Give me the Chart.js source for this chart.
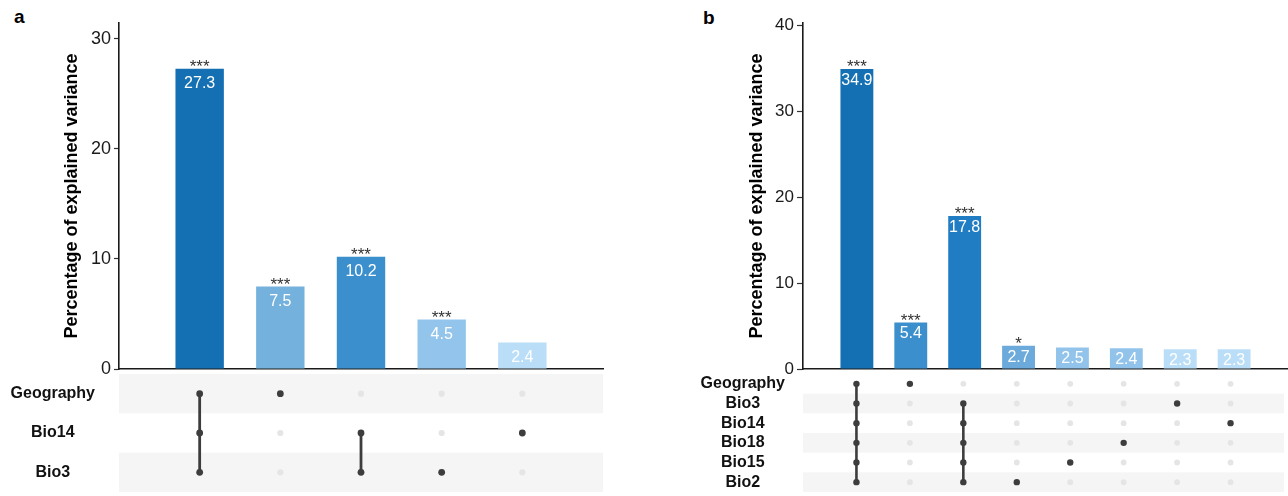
<!DOCTYPE html>
<html><head><meta charset="utf-8">
<script src="https://cdn.jsdelivr.net/npm/chart.js@4"></script>
<style>
html,body{margin:0;padding:0;background:#fff;width:1288px;height:496px;overflow:hidden;position:relative;}
canvas{position:absolute;display:block;}
.lab{position:absolute;font:bold 19px "Liberation Sans",Arial,sans-serif;line-height:19px;color:#000;}
</style></head><body>
<div class="lab" style="left:14px;top:7px">a</div>
<div class="lab" style="left:703px;top:8px">b</div>
<canvas id="barA" width="640" height="390" style="left:0;top:0"></canvas>
<canvas id="matA" width="640" height="126" style="left:0;top:370px"></canvas>
<canvas id="barB" width="648" height="390" style="left:640px;top:0"></canvas>
<canvas id="matB" width="648" height="126" style="left:640px;top:370px"></canvas>
<script>
// ---------- Panel a data ----------
const rowsA = ['Geography', 'Bio14', 'Bio3'];
const setsA = [
  ['Geography', 'Bio14', 'Bio3'],
  ['Geography'],
  ['Bio14', 'Bio3'],
  ['Bio3'],
  ['Bio14']
];
const valuesA = [27.3, 7.5, 10.2, 4.5, 2.4];
const sigA = ['***', '***', '***', '***', ''];
const colorsA = ['#1470b2', '#74b1dd', '#3a8fcc', '#93c5ec', '#bbdef8'];
const yTicksA = [0, 10, 20, 30];
const yMaxA = 31.45;

// ---------- Panel b data ----------
const rowsB = ['Geography', 'Bio3', 'Bio14', 'Bio18', 'Bio15', 'Bio2'];
const setsB = [
  ['Geography', 'Bio3', 'Bio14', 'Bio18', 'Bio15', 'Bio2'],
  ['Geography'],
  ['Bio3', 'Bio14', 'Bio18', 'Bio15', 'Bio2'],
  ['Bio2'],
  ['Bio15'],
  ['Bio18'],
  ['Bio3'],
  ['Bio14']
];
const valuesB = [34.9, 5.4, 17.8, 2.7, 2.5, 2.4, 2.3, 2.3];
const sigB = ['***', '***', '***', '*', '', '', '', ''];
const colorsB = ['#1470b2', '#3a8fcc', '#207cc3', '#6baadb', '#92c4eb', '#92c4eb', '#bbdef8', '#bbdef8'];
const yTicksB = [0, 10, 20, 30, 40];
const yMaxB = 40.25;

const FONT = '"Liberation Sans", Arial, Helvetica, sans-serif';
const AXIS = '#1a1a1a';

const barTextPlugin = {
  id: 'barText',
  afterDatasetsDraw(chart, args, opts) {
    const ctx = chart.ctx, meta = chart.getDatasetMeta(0), a = chart.chartArea;
    ctx.save();
    ctx.textAlign = 'center';
    ctx.fillStyle = '#333';
    ctx.font = '17px ' + FONT;
    ctx.textBaseline = 'alphabetic';
    meta.data.forEach((bar, i) => {
      if (opts.sig[i]) ctx.fillText(opts.sig[i], bar.x, bar.y + opts.starOffset);
    });
    ctx.beginPath();
    ctx.rect(a.left, a.top, a.right - a.left, a.bottom - a.top);
    ctx.clip();
    ctx.fillStyle = '#ffffff';
    ctx.font = '16px ' + FONT;
    ctx.textBaseline = 'middle';
    meta.data.forEach((bar, i) => {
      ctx.fillText(opts.values[i].toFixed(1), bar.x, bar.y + opts.valueOffset);
    });
    ctx.restore();
  }
};

const bandPlugin = {
  id: 'bands',
  beforeDatasetsDraw(chart, args, opts) {
    const ctx = chart.ctx, y = chart.scales.y, a = chart.chartArea;
    const n = opts.rows.length, h = (a.bottom - a.top) / n;
    ctx.save();
    ctx.fillStyle = '#f5f5f5';
    opts.rows.forEach((r, i) => {
      if ((n - 1 - i) % 2 === 0) {
        const cy = y.getPixelForValue(i);
        ctx.fillRect(a.left, cy - h / 2, a.right - a.left, h);
      }
    });
    ctx.restore();
  }
};

function makeBar(id, p) {
  const n = p.values.length;
  return new Chart(document.getElementById(id), {
    type: 'bar',
    data: {
      datasets: [{
        data: p.values.map((v, i) => ({ x: i + 1, y: v })),
        backgroundColor: p.colors,
        borderWidth: 0,
        barPercentage: p.barPct,
        categoryPercentage: 1
      }]
    },
    options: {
      responsive: false,
      animation: false,
      events: [],
      layout: { padding: p.pad },
      plugins: {
        legend: { display: false },
        tooltip: { enabled: false },
        barText: { sig: p.sig, values: p.values, starOffset: p.starOffset, valueOffset: p.valueOffset }
      },
      scales: {
        x: {
          type: 'linear', min: 0, max: n + 1, offset: false,
          ticks: { display: false, stepSize: 1 },
          grid: { display: true, offset: false, drawOnChartArea: false, drawTicks: false },
          border: { display: true, color: AXIS, width: 1.6 },
          afterFit: s => { s.height = 0; s.paddingLeft = 0; s.paddingRight = 0; }
        },
        y: {
          type: 'linear', min: 0, max: p.max,
          afterBuildTicks: s => { s.ticks = p.ticks.map(v => ({ value: v })); },
          ticks: { font: { family: FONT, size: p.tickSize }, color: AXIS, padding: 3, autoSkip: false },
          grid: { drawOnChartArea: false, drawTicks: true, tickLength: p.tickLen, tickColor: '#333', tickWidth: 1.2 },
          border: { display: true, color: AXIS, width: 1.6 },
          title: {
            display: true, text: 'Percentage of explained variance',
            font: { family: FONT, size: 18, weight: 'bold' }, color: '#000',
            padding: { top: 4, bottom: 4 }
          },
          afterFit: s => { s.width = p.axisW; s.paddingTop = 0; s.paddingBottom = 0; }
        }
      }
    },
    plugins: [barTextPlugin]
  });
}

function makeMatrix(id, p) {
  const rows = p.rows, sets = p.sets, n = sets.length;
  const light = [], dark = [], lines = [];
  sets.forEach((set, c) => {
    rows.forEach(r => {
      (set.includes(r) ? dark : light).push({ x: c + 1, y: r });
    });
    if (set.length > 1) {
      const members = rows.filter(r => set.includes(r));
      lines.push(members.map(r => ({ x: c + 1, y: r })));
    }
  });
  const datasets = [
    { type: 'scatter', data: dark, pointRadius: p.rDark, pointBackgroundColor: '#3d3d3d', pointBorderWidth: 0, order: 0 }
  ];
  lines.forEach(l => datasets.push({
    type: 'line', data: l, borderColor: '#3d3d3d', borderWidth: p.lw, pointRadius: 0, fill: false, order: 1
  }));
  datasets.push({ type: 'scatter', data: light, pointRadius: p.rLight, pointBackgroundColor: '#e5e5e5', pointBorderWidth: 0, order: 2 });
  return new Chart(document.getElementById(id), {
    type: 'scatter',
    data: { datasets },
    options: {
      responsive: false,
      animation: false,
      events: [],
      layout: { padding: p.pad },
      plugins: { legend: { display: false }, tooltip: { enabled: false }, bands: { rows } },
      scales: {
        x: { type: 'linear', min: 0, max: n + 1, display: false },
        y: {
          type: 'category', labels: rows, offset: true,
          grid: { display: false, drawTicks: false },
          border: { display: false },
          ticks: { font: { family: FONT, size: 16, weight: 'bold' }, color: '#111', crossAlign: 'center', padding: p.tickPad, autoSkip: false },
          afterFit: s => { s.width = p.axisW; s.paddingTop = 0; s.paddingBottom = 0; }
        }
      }
    },
    plugins: [bandPlugin]
  });
}

makeBar('barA', {
  values: valuesA, sig: sigA, colors: colorsA, ticks: yTicksA, max: yMaxA,
  pad: { left: 57, top: 23, right: 37, bottom: 21 }, axisW: 62, tickSize: 18, tickLen: 5,
  barPct: 0.6, starOffset: 3.5, valueOffset: 15
});
makeMatrix('matA', {
  rows: rowsA, sets: setsA, pad: { left: 0, top: 3, right: 37, bottom: 1 }, axisW: 119, tickPad: 24,
  rDark: 3.4, rLight: 3.1, lw: 2.8
});
makeBar('barB', {
  values: valuesB, sig: sigB, colors: colorsB, ticks: yTicksB, max: yMaxB,
  pad: { left: 102, top: 23, right: 0, bottom: 21 }, axisW: 61, tickSize: 17, tickLen: 6,
  barPct: 0.61, starOffset: 3.5, valueOffset: 11.5
});
makeMatrix('matB', {
  rows: rowsB, sets: setsB, pad: { left: 0, top: 3, right: 0, bottom: 0 }, axisW: 163, tickPad: 18,
  rDark: 3.2, rLight: 2.9, lw: 2.6
});
</script>
</body></html>
